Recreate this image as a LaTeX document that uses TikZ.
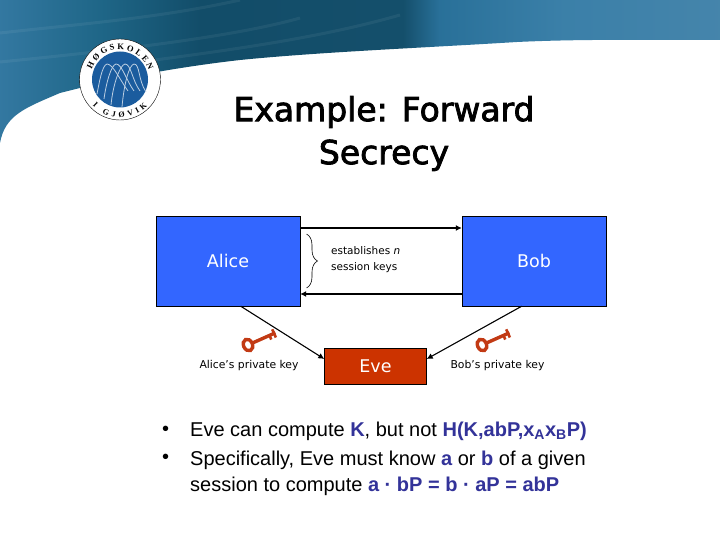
\documentclass[tikz,border=0pt]{standalone}
\usepackage{fontspec}
\setmainfont{Liberation Sans}
\newfontfamily\slidefont{DejaVu Sans}
\newfontfamily\titlefont[FakeBold=2.4]{DejaVu Sans}
\newfontfamily\logofont{Liberation Serif}
\usetikzlibrary{arrows.meta,calc,positioning,decorations.pathreplacing,decorations.text}
\definecolor{partyblue}{HTML}{3366FF}
\definecolor{evered}{HTML}{CC3300}
\definecolor{keyred}{HTML}{C23A14}
\definecolor{emphblue}{HTML}{333399}
\definecolor{logoblue}{HTML}{1B5C9E}
\pgfdeclarehorizontalshading{bannershade}{100bp}{
  rgb(0bp)=(0.20,0.47,0.63);
  rgb(25bp)=(0.20,0.47,0.63);
  rgb(32bp)=(0.12,0.40,0.53);
  rgb(39bp)=(0.07,0.30,0.41);
  rgb(53bp)=(0.08,0.31,0.42);
  rgb(55.5bp)=(0.16,0.44,0.60);
  rgb(64bp)=(0.23,0.50,0.66);
  rgb(75bp)=(0.27,0.52,0.67);
  rgb(100bp)=(0.27,0.52,0.67)}
\newcommand{\hl}[1]{\textcolor{emphblue}{\textbf{#1}}}
\begin{document}
\begin{tikzpicture}[x=1pt, y=-1pt,
  party/.style={draw=black, fill=partyblue, text=white, font=\slidefont\fontsize{17.5}{20}\selectfont,
    minimum width=144pt, minimum height=90pt, inner sep=0pt},
  attacker/.style={draw=black, fill=evered, text=white, font=\slidefont\fontsize{17.5}{20}\selectfont,
    minimum width=102pt, minimum height=36pt, inner sep=0pt},
  flow/.style={-{Latex[length=6pt,width=6pt]}, line width=1.5pt},
  leak/.style={-{Latex[length=6pt,width=6pt]}, line width=1.1pt},
  streak/.style={white, opacity=0.06, line width=3pt},
  keylab/.style={font=\slidefont\fontsize{10.8}{12}\selectfont, inner sep=0pt},
  bullet/.style={font=\fontsize{20}{25.5}\selectfont, anchor=west, inner sep=0pt, align=left},
  titlelab/.style={font=\titlefont\fontsize{33}{43}\selectfont, align=center, inner sep=0pt}]
\useasboundingbox (0,0) rectangle (720,540);
\fill[white] (0,0) rectangle (720,540);
% ---------------- banner ----------------
\shade[shading=bannershade]
  (0,0) -- (720,0) -- (720,40) .. controls (640,40) and (580,39) .. (517,42)
  .. controls (420,48) and (320,52) .. (240,60)
  .. controls (170,68) and (110,80) .. (60,93)
  .. controls (25,108) and (5,115) .. (0,143) -- cycle;
\draw[streak] (0,33) .. controls (80,24) and (160,18) .. (240,0);
\draw[streak] (0,62) .. controls (100,52) and (230,38) .. (300,18);
\draw[streak] (140,62) .. controls (230,50) and (320,38) .. (400,15);
% ---------------- logo ----------------
\node[circle, draw=black, fill=white, minimum size=81pt, inner sep=0pt] (logo) at (120,79.5) {};
\node[circle, fill=logoblue, minimum size=56pt, inner sep=0pt] (seal) at (120,79.5) {};
\foreach \sx/\sy/\px/\ex/\ey in {97/94/107/128/91,104/99/116/134/91,111/105/125/140/91,122/107/134/146/92}{
  \draw[white!70!logoblue, line width=0.8pt]
    (\sx,\sy) .. controls (\sx+2,84) and (\px-5,65) .. (\px,64)
    .. controls (\px+6,64) and (\ex-8,80) .. (\ex,\ey);}
\begin{scope}[shift={(120,79.5)}, y=1pt]
  \path[decorate, decoration={text along path, text align={fit to path},
      text={|\logofont\bfseries\fontsize{8.5}{8.5}\selectfont|HØGSKOLEN}}]
    (160:30pt) arc[start angle=160, end angle=18, radius=30pt];
  \path[decorate, decoration={text along path, text align={fit to path},
      text={|\logofont\bfseries\fontsize{8}{8}\selectfont|I GJØVIK}}]
    (224:38pt) arc[start angle=224, end angle=316, radius=38pt];
\end{scope}
% ---------------- title ----------------
\node[titlelab] (title) at (384,133.5) {Example: Forward\\Secrecy};
% ---------------- parties ----------------
\node[party] (alice) at (228,261) {Alice};
\node[party] (bob) at (534,261) {Bob};
\node[attacker] (eve) at (375.5,366) {Eve};
\coordinate (atop) at (alice.east |- 0,228);
\coordinate (btop) at (bob.west |- 0,228);
\coordinate (abot) at (alice.east |- 0,294);
\coordinate (bbot) at (bob.west |- 0,294);
\coordinate (aout) at ([xshift=12.7pt]alice.south);
\coordinate (bout) at ([xshift=-12.3pt]bob.south);
\coordinate (ein) at (eve.west |- 0,359);
\coordinate (ebk) at (eve.east |- 0,359);
\draw[flow] (atop) -- (btop);
\draw[flow] (bbot) -- (abot);
\draw[leak] (aout) -- (ein);
\draw[leak] (bout) -- (ebk);
\draw[decorate, decoration={brace, amplitude=11pt}, line width=0.6pt]
  (306.5,234) -- (306.5,288);
\node[font=\slidefont\fontsize{10.5}{16}\selectfont, align=left, anchor=west, inner sep=0pt] (sess)
  at (331,259.5) {establishes \textit{n}\\session keys};
\node[keylab] (akey) at (249,366) {Alice’s private key};
\node[keylab] (bkey) at (497.5,366) {Bob’s private key};
% ---------------- keys ----------------
\foreach \kx/\name in {248/akeyicon,482/bkeyicon}{
  \begin{scope}[shift={(\kx,345)}, rotate=24]
    \draw[keyred, line width=3.4pt] (0,0) ellipse[x radius=4.5pt, y radius=6pt];
    \draw[keyred, line width=3.4pt] (4.5,0) -- (30,0);
    \draw[keyred, line width=2.6pt] (23.5,-1) -- (23.5,4.5) (28.5,-4.5) -- (28.5,4.5);
    \node[inner sep=0pt] (\name) at (0,0) {};
  \end{scope}}
% ---------------- bullets ----------------
\node[bullet] (dota) at (162,431) {•};
\node[bullet] (lineone) at (190,431.5) {Eve can compute \hl{K}, but not
  \hl{H(K,abP,x\textsubscript{A}x\textsubscript{B}P)}};
\node[bullet] (dotb) at (162,459) {•};
\node[bullet, anchor=north west] (linetwo) at (190,451) {Specifically, Eve must know \hl{a} or \hl{b} of a given\\
  session to compute \hl{a · bP = b · aP = abP}};
\end{tikzpicture}
\end{document}
